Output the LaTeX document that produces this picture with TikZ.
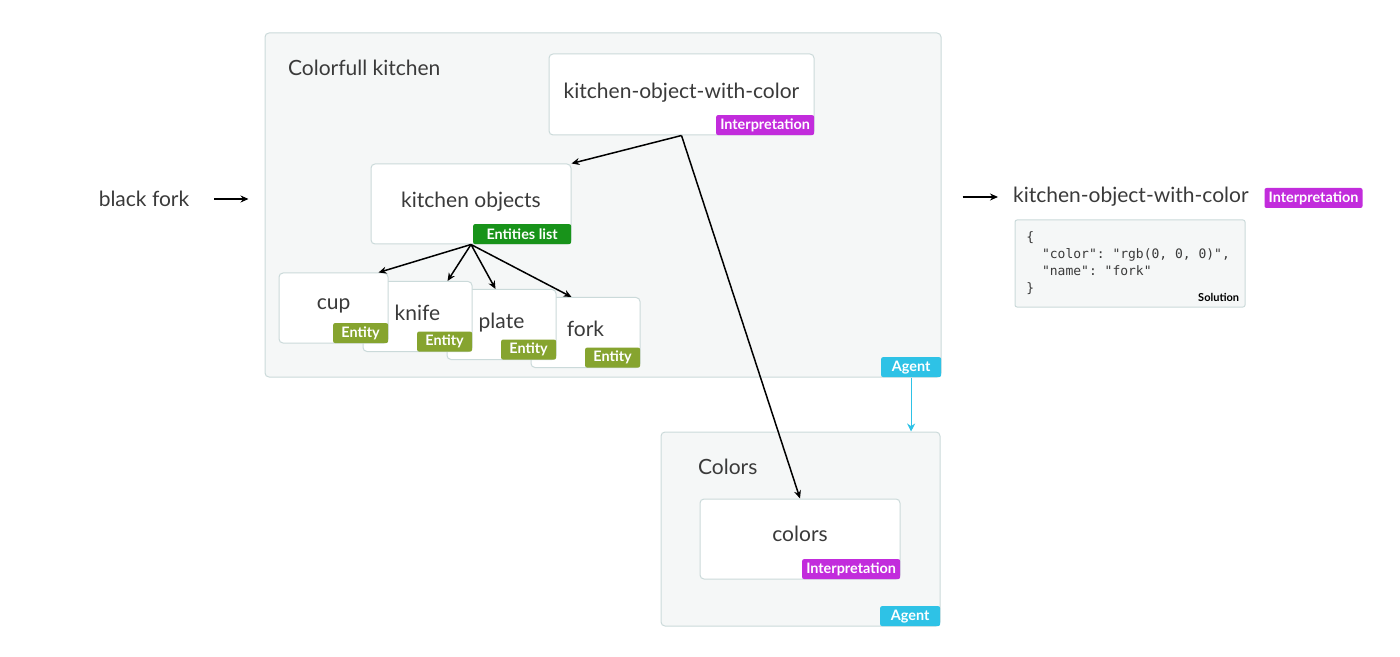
\documentclass[tikz,border=0pt]{standalone}
\usepackage{fontspec}
\setmainfont{Lato}
\setmonofont{DejaVu Sans Mono}
\usetikzlibrary{positioning,arrows.meta}
\definecolor{panelfill}{HTML}{F5F7F7}
\definecolor{panelline}{HTML}{CBDADA}
\definecolor{textgray}{HTML}{3A3A3A}
\definecolor{interpcol}{HTML}{C22CDC}
\definecolor{listcol}{HTML}{18931A}
\definecolor{entitycol}{HTML}{86A42F}
\definecolor{agentcol}{HTML}{2EC2E6}
\tikzset{
    panel/.style={draw=panelline,fill=panelfill,rounded corners=2pt,line width=0.5pt},
    objbox/.style={draw=panelline,fill=white,rounded corners=2pt,line width=0.5pt,
        text=textgray,font=\fontsize{10.5}{12}\selectfont},
    plain/.style={text=textgray,font=\fontsize{10.5}{12}\selectfont},
    tagbox/.style={inner sep=0pt,minimum height=10pt,text=white,rounded corners=1pt,
        font=\fontsize{7.2}{8}\selectfont\bfseries},
    interp/.style={tagbox,fill=interpcol,minimum width=49pt},
    entlist/.style={tagbox,fill=listcol,minimum width=49pt},
    entity/.style={tagbox,fill=entitycol,minimum width=27.5pt},
    agent/.style={tagbox,fill=agentcol,minimum width=30pt},
    link/.style={line width=0.75pt,-{Stealth[length=4pt,width=3.5pt]}},
    agentlink/.style={agentcol,line width=0.6pt,-{Stealth[length=4pt,width=4pt]}}
}
\begin{document}
\begin{tikzpicture}[x=0.5pt,y=-0.5pt]
        \useasboundingbox (0,0) rectangle (1400,657);
        % agent panels
        \node[panel,minimum width=338pt,minimum height=172pt] (kitchen) at (603,205) {};
        \node[plain,anchor=west] (kitchentitle) at (281,68) {Colorfull kitchen};
        \node[agent,anchor=south east] (kitchenagent) at (kitchen.south east) {Agent};
        \node[panel,minimum width=139.5pt,minimum height=97pt] (colorsp) at (800.5,529) {};
        \node[plain,anchor=west] (colorstitle) at (691,467) {Colors};
        \node[agent,anchor=south east] (colorsagent) at (colorsp.south east) {Agent};
        % concepts
        \node[objbox,minimum width=132.5pt,minimum height=40.5pt,text depth=3.5pt] (kocbox) at (681.5,94.5) {kitchen-object-with-color};
        \node[interp,anchor=south east] (koctag) at (kocbox.south east) {Interpretation};
        \node[objbox,minimum width=100pt,minimum height=40pt,text depth=4pt] (kobox) at (471,204) {kitchen objects};
        \node[entlist,anchor=south east] (kotag) at (kobox.south east) {Entities list};
        \foreach \name/\x/\y in {fork/585.5/332.5,plate/501.5/324.5,knife/417.5/316.5,cup/333.5/308}{
            \node[objbox,minimum width=54.5pt,minimum height=35pt,text depth=3.5pt] (\name) at (\x,\y) {\name};
            \node[entity,anchor=south east] (\name tag) at (\name.south east) {Entity};
        }
        \node[objbox,minimum width=100pt,minimum height=40pt,text depth=5pt] (colorsbox) at (800,539) {colors};
        \node[interp,anchor=south east] (colorstag) at (colorsbox.south east) {Interpretation};
        % input and output
        \node[plain] (input) at (144,199) {black fork};
        \node[plain,anchor=west] (output) at (1006,197) {kitchen-object-with-color};
        \node[interp] (outtag) at (1313.5,198) {Interpretation};
        \node[draw=panelline,fill=panelfill,rounded corners=1pt,line width=0.5pt,
            minimum width=115pt,minimum height=43.5pt] (solution) at (1130,263.5) {};
        \node[anchor=north west,align=left,inner sep=0pt,text=textgray,
            font=\fontsize{6.5}{8.5}\ttfamily] (code) at (1026,231)
            {\{\\\ \ "color": "rgb(0, 0, 0)",\\\ \ "name": "fork"\\\}};
        \node[anchor=south east,inner sep=3pt,font=\fontsize{5.5}{6}\selectfont\bfseries] (sollabel) at (solution.south east) {Solution};
        % connectors
        \draw[link] (kocbox.south) -- (kobox.north east);
        \draw[link] (kocbox.south) -- (colorsbox.north);
        \draw[link] (kobox.south) -- ([xshift=-5pt]cup.north east);
        \draw[link] (kobox.south) -- ([xshift=15pt]knife.north);
        \draw[link] (kobox.south) -- ([xshift=-3pt]plate.north);
        \draw[link] (kobox.south) -- ([xshift=-7pt]fork.north);
        \draw[link] ([xshift=9pt]input.east) -- ([xshift=-8pt]kitchen.west |- input.east);
        \draw[link] ([xshift=10.5pt]kitchen.east |- output.west) -- ([xshift=-4pt]output.west);
        \draw[agentlink] (kitchenagent.south) -- (kitchenagent.south |- colorsp.north);
    \end{tikzpicture}
\end{document}
